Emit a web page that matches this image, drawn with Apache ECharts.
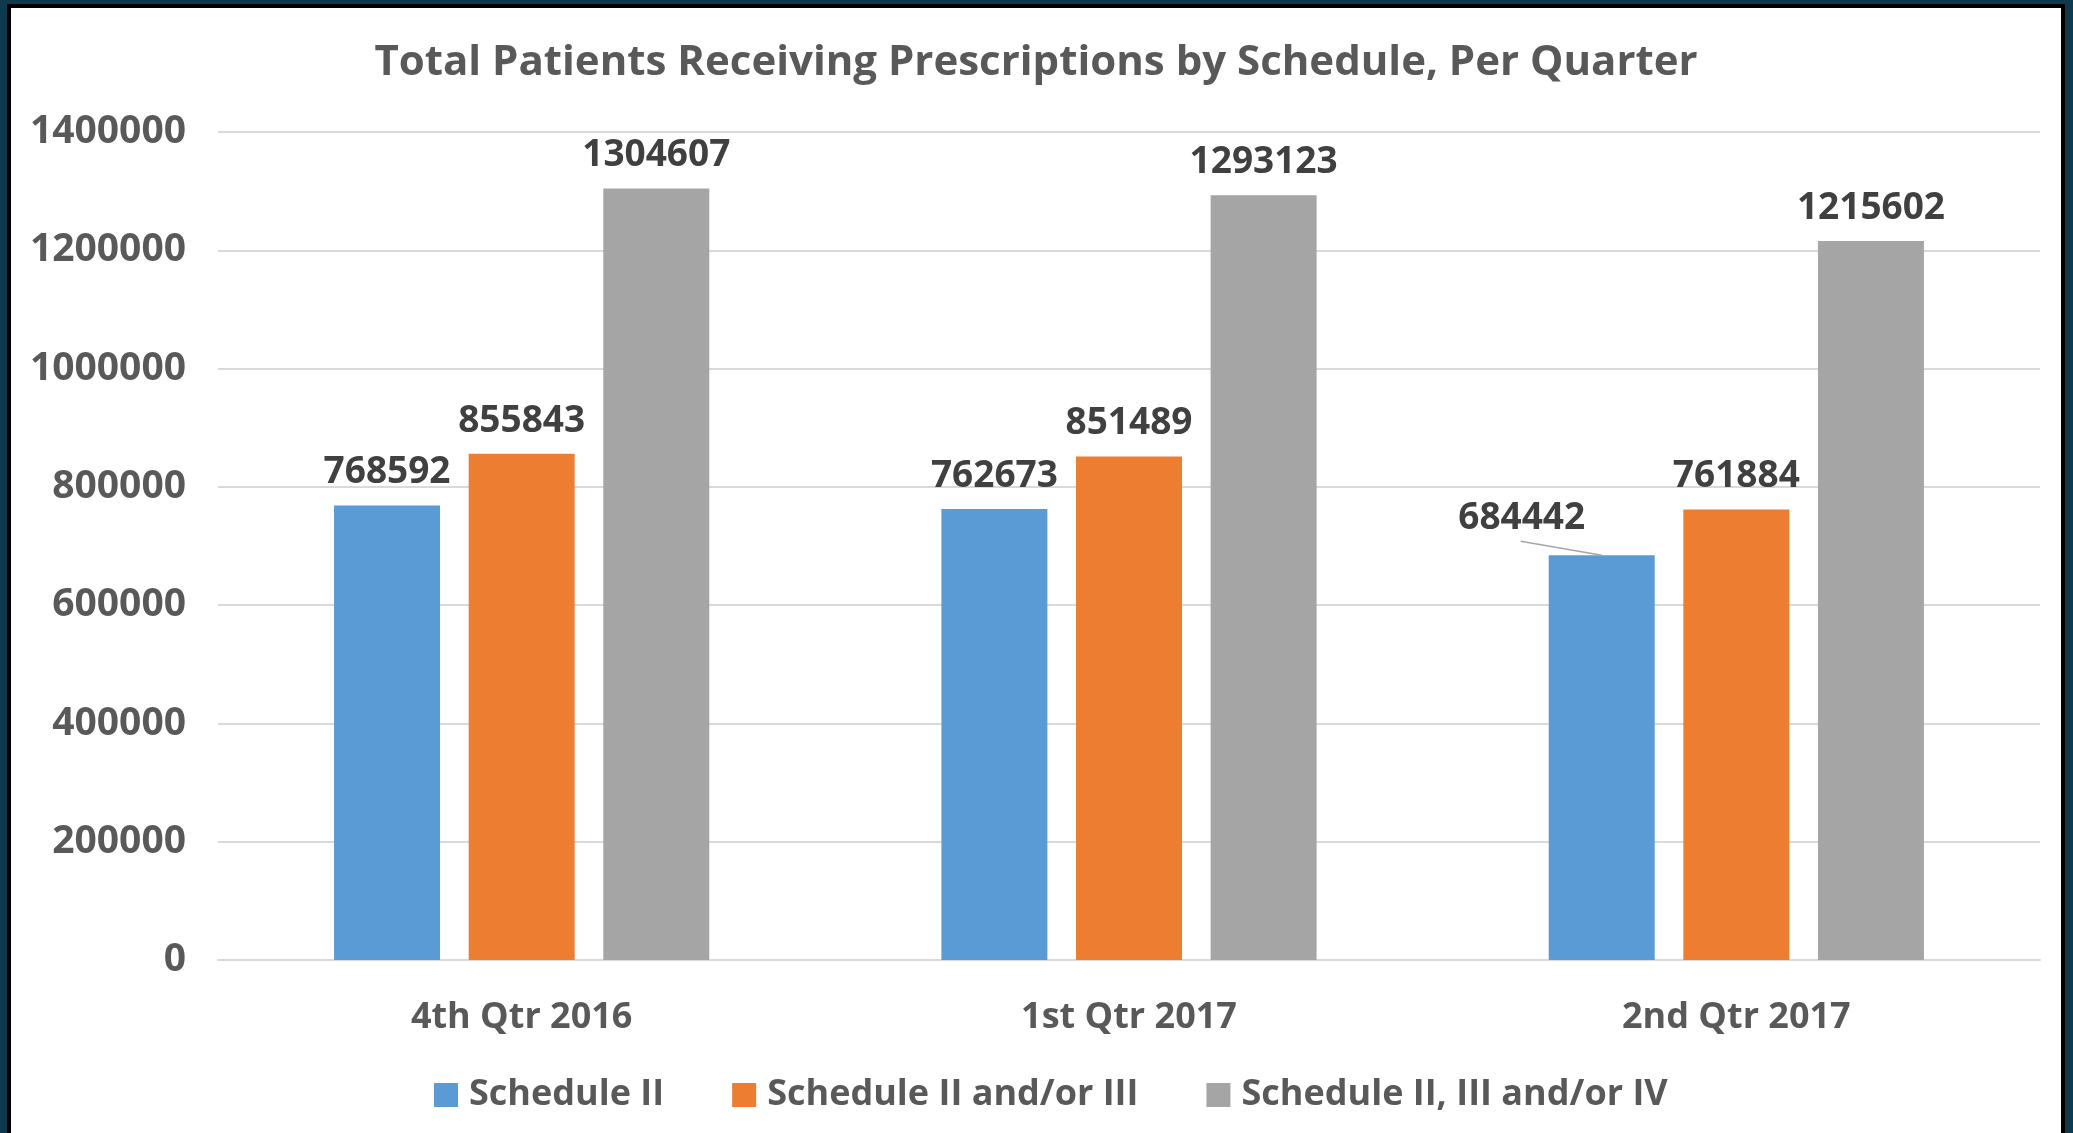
<!DOCTYPE html>
<html>
<head>
<meta charset="utf-8">
<script src="https://cdn.jsdelivr.net/npm/echarts@6/dist/echarts.min.js"></script>
<style>
  html, body { margin: 0; padding: 0; background: #0e3a4e; }
  #frame {
    position: absolute; left: 7px; top: 4px; width: 2058px; height: 1129px;
    background: #000;
  }
  #chart {
    position: absolute; left: 4px; top: 4px; width: 2050px; height: 1125px;
    background: #fff;
  }
</style>
</head>
<body>
<div id="frame"><div id="chart"></div></div>
<script>
// categories (quarters)
const quarters = ['4th Qtr 2016', '1st Qtr 2017', '2nd Qtr 2017']
// series names
const seriesNames = ['Schedule II', 'Schedule II and/or III', 'Schedule II, III and/or IV']
// values per series
const scheduleII = [768592, 762673, 684442]
const scheduleIIorIII = [855843, 851489, 761884]
const scheduleIIIIIorIV = [1304607, 1293123, 1215602]
// y axis ticks
const yMin = 0
const yMax = 1400000
const yStep = 200000

const colors = ['#5b9bd5', '#ed7d31', '#a5a5a5']
const fontFamily = '"Open Sans", "Noto Sans", sans-serif'

// the blue label of the last quarter is moved up-left (Excel style)
const movedIdx = 2
const movedDx = -80
const movedDy = -4

const chart = echarts.init(document.getElementById('chart'))

const labelStyle = {
  show: true,
  position: 'top',
  distance: 14,
  color: '#404040',
  fontFamily: fontFamily,
  fontWeight: 'bold',
  fontSize: 37
}

function makeSeries(name, data, idx) {
  const s = {
    name: name,
    type: 'bar',
    data: data,
    itemStyle: { color: colors[idx] },
    label: labelStyle,
    barWidth: 106,
    barGap: '27%',
    emphasis: { disabled: true }
  }
  if (idx === 0) {
    s.labelLayout = function(params) {
      if (params.dataIndex === movedIdx) {
        return { dx: movedDx, dy: movedDy }
      }
      return {}
    }
  }
  return s
}

chart.setOption({
  animation: false,
  title: {
    text: 'Total Patients Receiving Prescriptions by Schedule, Per Quarter',
    left: 'center',
    top: 29,
    padding: [5, 5, 5, 15],
    textStyle: {
      color: '#595959',
      fontFamily: fontFamily,
      fontWeight: 'bold',
      fontSize: 42
    }
  },
  legend: {
    data: seriesNames,
    top: 1064,
    left: 418,
    itemWidth: 24,
    itemHeight: 24,
    itemGap: 68,
    icon: 'rect',
    textStyle: {
      color: '#595959',
      fontFamily: fontFamily,
      fontWeight: 'bold',
      fontSize: 36,
      padding: [0, 0, 0, 6]
    }
  },
  grid: {
    left: 207,
    right: 21,
    top: 124,
    bottom: 173
  },
  xAxis: {
    type: 'category',
    data: quarters,
    axisTick: { show: false },
    axisLine: { lineStyle: { color: '#d9d9d9', width: 2 } },
    axisLabel: {
      color: '#595959',
      fontFamily: fontFamily,
      fontWeight: 'bold',
      fontSize: 36,
      margin: 40
    }
  },
  yAxis: {
    type: 'value',
    min: yMin,
    max: yMax,
    interval: yStep,
    axisLine: { show: false },
    axisTick: { show: false },
    splitLine: { lineStyle: { color: '#d9d9d9', width: 2 } },
    axisLabel: {
      color: '#595959',
      fontFamily: fontFamily,
      fontWeight: 'bold',
      fontSize: 39,
      margin: 32,
      formatter: function(v) { return String(v) }
    }
  },
  series: [
    makeSeries(seriesNames[0], scheduleII, 0),
    makeSeries(seriesNames[1], scheduleIIorIII, 1),
    makeSeries(seriesNames[2], scheduleIIIIIorIV, 2)
  ]
})

// leader line from the moved label to the top centre of its bar
const layout = chart.getModel().getSeriesByIndex(0).getData().getItemLayout(movedIdx)
if (layout) {
  const cx = layout.x + layout.width / 2
  const topY = layout.y + layout.height
  chart.setOption({
    graphic: [{
      type: 'line',
      z: 10,
      shape: { x1: cx + movedDx - 1, y1: topY - 14, x2: cx, y2: topY },
      style: { stroke: '#a6a6a6', lineWidth: 1.5 }
    }]
  })
}
</script>
</body>
</html>
